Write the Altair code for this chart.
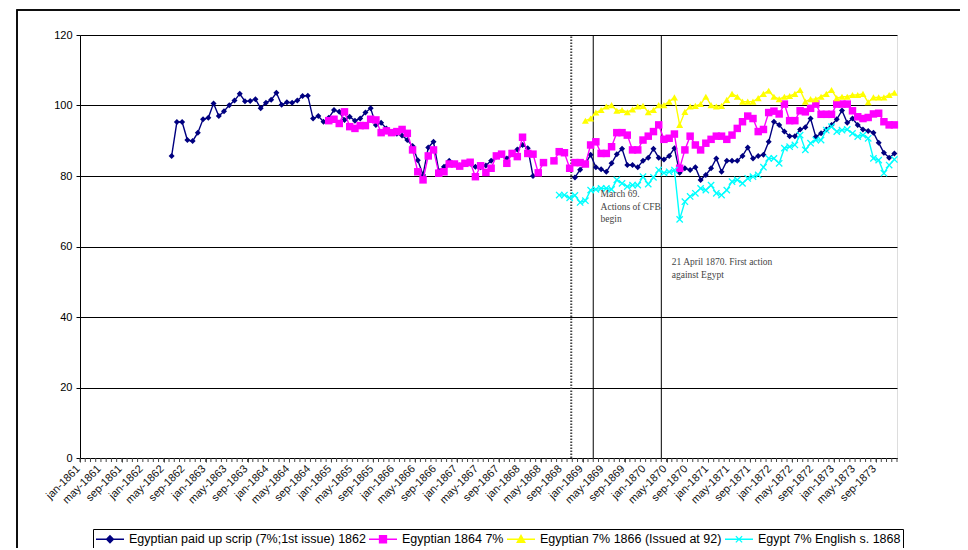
import altair as alt
import pandas as pd

# ---------------- data ----------------
N_MONTHS = 156  # jan-1861 .. dec-1873 (monthly categories)

series_names = [
    "Egyptian paid up scrip (7%;1st issue) 1862",
    "Egyptian 1864 7%",
    "Egyptian 7% 1866 (Issued at 92)",
    "Egypt 7% English s. 1868",
]
series_colors = ["#000080", "#FF00FF", "#FFFF00", "#00FFFF"]

# x tick labels: every 4th month from jan-1861
label_months = ["jan", "may", "sep"]
label_years = list(range(1861, 1874))

# start month index (0 = jan-1861) and monthly values (None = no quote)
scrip_start = 17
scrip_vals = [85.7, 95.3, 95.3, 90.2, 89.9, 92.3, 96.1, 96.5, 100.6, 97.0, 98.4, 100.1,
              101.4, 103.3, 101.2, 101.3, 101.8, 99.2, 100.8, 101.6, 103.6, 100.2, 100.9,
              100.8, 101.4, 102.7, 102.8, 96.3, 97.0, 95.4, 96.5, 98.7, 98.2, 95.9, 96.8,
              95.7, 96.3, 98.0, 99.2, 94.5, 95.1, 93.5,
              92.5, 92.0, 91.5, 90.2, 88.5, 84.5, 80.3, 88.1, 89.7, 81.5, 82.6, 84.3, 83.5,
              83.0, 83.5, 83.5, 82.6, 82.5, 83.0, 84.3, 85.5, 86.0, 85.0, 86.5, 87.5, 88.8,
              87.9, 80.0, None, None, None, None, None, None, None, 79.6, 81.8, 83.5, 86.0,
              82.5, 81.9, 81.2, 83.6, 86.2, 87.7, 83.1, 83.1, 82.5, 84.3, 85.2, 87.7, 85.2,
              84.7, 85.7, 87.9, 80.9, 82.2, 81.7, 82.5, 78.9, 80.3, 82.2, 85.0, 81.2, 84.3,
              84.3, 84.3, 85.7, 88.1, 85.0, 85.7, 86.0, 89.7, 95.4, 94.5, 92.6, 91.3, 91.3,
              93.2, 93.8, 96.3, 91.1, 92.1, 93.2, 94.5, 96.1, 98.6, 95.1, 96.3, 94.5, 93.2,
              92.8, 92.3, 89.4, 86.6, 85.2, 86.4]

e1864_start = 47
e1864_vals = [95.7, 96.1, 94.9, 98.2, 94.0, 93.5, 94.3, 94.3, 96.1, 95.9, 92.3, 92.8, 92.3,
              92.6, 93.2, 92.1, 87.4, 81.2, 78.9, 85.7, 87.4, 80.8, 81.2, 83.4, 83.4, 82.8,
              83.6, 83.9, 79.8, 82.9, 81.0, 82.2, 85.7, 86.2, 83.6, 86.4, 85.5, 91.0, 86.4,
              86.2, 80.9, 83.8, None, 84.3, 86.9, 86.6, 82.2, 83.8, 83.8, 83.4, 88.8, 89.7,
              86.4, 86.4, 88.3, 92.3, 92.3, 91.6, 87.4, 87.4, 90.2, 91.3, 92.6, 94.5, 90.4,
              90.7, 91.9, 82.2, 87.4, 91.3, 88.8, 87.4, 89.3, 90.4, 91.3, 91.3, 90.4, 91.6,
              93.5, 95.4, 97.0, 96.3, 92.6, 93.2, 98.0, 98.4, 97.6, 100.4, 95.7, 95.7, 98.5,
              98.2, 99.2, 100.4, 97.5, 97.5, 97.5, 100.4, 100.4, 100.4, 98.5, 96.8, 96.3,
              96.6, 97.6, 97.8, 95.4, 94.5, 94.5]

e1866_start = 96
e1866_vals = [95.7, 96.3, 98.0, 98.7, 99.7, 100.1, 98.5, 98.7, 98.1, 98.9, 99.7, 99.9, 98.1,
              98.7, 100.1, 100.1, 101.1, 102.3, 94.5, 98.2, 99.7, 99.9, 100.4, 102.5, 100.1,
              99.7, 99.9, 101.6, 103.3, 102.5, 101.1, 101.1, 101.1, 102.1, 103.3, 104.2,
              102.5, 101.8, 102.5, 102.7, 103.3, 104.4, 101.1, 101.8, 101.8, 102.5, 103.3,
              104.4, 102.1, 102.5, 102.5, 103.0, 103.0, 103.3, 100.9, 102.3, 102.3, 102.3,
              103.0, 103.6]

eng1868_start = 91
eng1868_vals = [74.6, 74.6, 73.8, 74.5, 72.5, 73.0, 76.0, 76.2, 76.5, 76.5, 76.2, 78.9, 77.9,
                77.0, 77.4, 77.4, 79.8, 77.7, 79.6, 81.7, 80.9, 81.2, 81.7, 67.7, 72.7, 74.2,
                75.1, 76.5, 76.0, 77.4, 75.1, 74.6, 76.0, 78.4, 78.9, 77.9, 79.3, 79.8, 80.3,
                82.5, 85.0, 85.0, 83.6, 87.9, 88.3, 88.8, 91.6, 87.4, 89.3, 90.2, 90.2, 93.0,
                94.0, 92.6, 93.0, 93.2, 92.1, 91.2, 91.6, 90.7, 85.0, 84.5, 80.8, 83.1, 84.7]

starts = [scrip_start, e1864_start, e1866_start, eng1868_start]
values = [scrip_vals, e1864_vals, e1866_vals, eng1868_vals]

# event lines (position in month units from jan-1861) and notes
event_pos = [93.8, 98.0, 111.0]
event_style = ["dotted", "solid", "solid"]
note_x = [99.4, 113.0]
note_y = [76.3, 57.0]
note_text = ["March 69.\nActions of CFB\nbegin", "21 April 1870. First action\nagainst Egypt"]

# ---------------- tables ----------------
rows = []
for name, st, vals in zip(series_names, starts, values):
    seg = 0
    for k, v in enumerate(vals):
        if v is None:
            seg += 1
            continue
        rows.append({"series": name, "seg": f"{name}#{seg}", "x": st + k + 0.5, "v": v})
df = pd.DataFrame(rows)
ev = pd.DataFrame({"x": event_pos, "style": event_style, "y0": 0, "y1": 120})
notes = pd.DataFrame({"x": note_x, "y": note_y, "t": note_text})
legdf = pd.DataFrame({"series": series_names})
month_ticks = pd.DataFrame({"m": list(range(0, N_MONTHS + 1))})
lab_rows = []
for yi, yr in enumerate(label_years):
    for mi, mon in enumerate(label_months):
        lab_rows.append({"m": yi * 12 + mi * 4, "lab": f"{mon}-{yr}"})
xlabels = pd.DataFrame(lab_rows)

# ---------------- scales / axes ----------------
xscale = alt.Scale(domain=[0, N_MONTHS], nice=False, zero=False)
yscale = alt.Scale(domain=[0, 120], nice=False)

xaxis = alt.Axis(values=list(range(0, N_MONTHS, 4)), labels=False, tickSize=4,
                 grid=False, title=None, domainColor="black", tickColor="#444")
yaxis = alt.Axis(values=[0, 20, 40, 60, 80, 100, 120], grid=True, gridColor="black",
                 gridWidth=1, tickSize=4, labelPadding=4, title=None,
                 domainColor="black", tickColor="black", labelFont="Liberation Sans",
                 labelFontSize=11, labelColor="black")

pt_shapes = ["diamond", "square", "triangle-up", "M-1,-1L1,1M-1,1L1,-1"]
pt_sizes = [36, 56, 49, 40]
leg_shapes = ["M-2,0H2M0,-0.5L0.5,0L0,0.5L-0.5,0Z",
              "M-2,0H2M-0.5,-0.5H0.5V0.5H-0.5Z",
              "M-2,0H2M0,-0.55L0.55,0.45H-0.55Z",
              "M-2,0H2M-0.45,-0.45L0.45,0.45M-0.45,0.45L0.45,-0.45"]

layers = []
for name, col, shp, sz in zip(series_names, series_colors, pt_shapes, pt_sizes):
    sub = df[df["series"] == name]
    layers.append(alt.Chart(sub).mark_line(strokeWidth=1.4, color=col).encode(
        x=alt.X("x:Q", scale=xscale, axis=xaxis),
        y=alt.Y("v:Q", scale=yscale, axis=yaxis),
        detail="seg:N", order="x:Q"))
    is_x = shp.startswith("M")
    layers.append(alt.Chart(sub).mark_point(
        shape=shp, size=sz, filled=not is_x, color=col, opacity=1,
        strokeWidth=1.3).encode(
        x=alt.X("x:Q", scale=xscale), y=alt.Y("v:Q", scale=yscale)))

legend = alt.Legend(orient="none", legendX=13, legendY=494, direction="horizontal", columns=4,
                    title=None, strokeColor="black", fillColor="white", padding=2,
                    columnPadding=0, symbolOffset=7, labelOffset=11, symbolSize=196,
                    symbolStrokeWidth=1.3, labelLimit=600, labelFont="Liberation Sans",
                    labelFontSize=12.5, labelColor="black")
leg_layer = alt.Chart(legdf).mark_point(opacity=1, filled=True).encode(
    x=alt.X("x:Q", scale=xscale), y=alt.Y("y:Q", scale=yscale),
    fill=alt.Fill("series:N", scale=alt.Scale(domain=series_names, range=series_colors),
                  sort=series_names, legend=legend),
    stroke=alt.Stroke("series:N", scale=alt.Scale(domain=series_names, range=series_colors),
                      sort=series_names, legend=legend),
    shape=alt.Shape("series:N", scale=alt.Scale(domain=series_names, range=leg_shapes),
                    sort=series_names, legend=legend),
).transform_filter("false")

# monthly minor ticks under the axis
minor = alt.Chart(month_ticks).mark_rule(color="#444", strokeWidth=1).encode(
    x=alt.X("m:Q", scale=xscale), y=alt.value(423), y2=alt.value(427))

# rotated x labels
xlab = alt.Chart(xlabels).mark_text(angle=315, align="right", baseline="middle", dx=-2,
                                    font="Liberation Sans", fontSize=11, color="#111").encode(
    x=alt.X("m:Q", scale=xscale), y=alt.value(431), text="lab:N")

dotted = alt.Chart(ev[ev["style"] == "dotted"]).mark_rule(
    color="#444", strokeWidth=2, strokeDash=[1.5, 1.5]).encode(
    x=alt.X("x:Q", scale=xscale), y=alt.Y("y0:Q", scale=yscale), y2="y1:Q")
solid = alt.Chart(ev[ev["style"] == "solid"]).mark_rule(color="black", strokeWidth=1).encode(
    x=alt.X("x:Q", scale=xscale), y=alt.Y("y0:Q", scale=yscale), y2="y1:Q")

texts = alt.Chart(notes).mark_text(align="left", baseline="top", lineBreak="\n",
                                   lineHeight=12.5, font="Liberation Serif", fontSize=9.5,
                                   color="#444").encode(
    x=alt.X("x:Q", scale=xscale), y=alt.Y("y:Q", scale=yscale), text="t:N")

frame = alt.Chart(notes).mark_rect(fill=None, stroke="black", strokeWidth=1.5).encode(
    x=alt.value(-63), x2=alt.value(900), y=alt.value(-25), y2=alt.value(530))

chart = alt.layer(frame, minor, xlab, dotted, solid, *layers, texts, leg_layer).properties(
    width=817, height=423, autosize="none",
    padding={"left": 72, "top": 27, "right": 63, "bottom": 90},
).configure_view(stroke=None).configure(background="white")

chart.save("out.html", embed_options={"renderer": "svg", "actions": False})
